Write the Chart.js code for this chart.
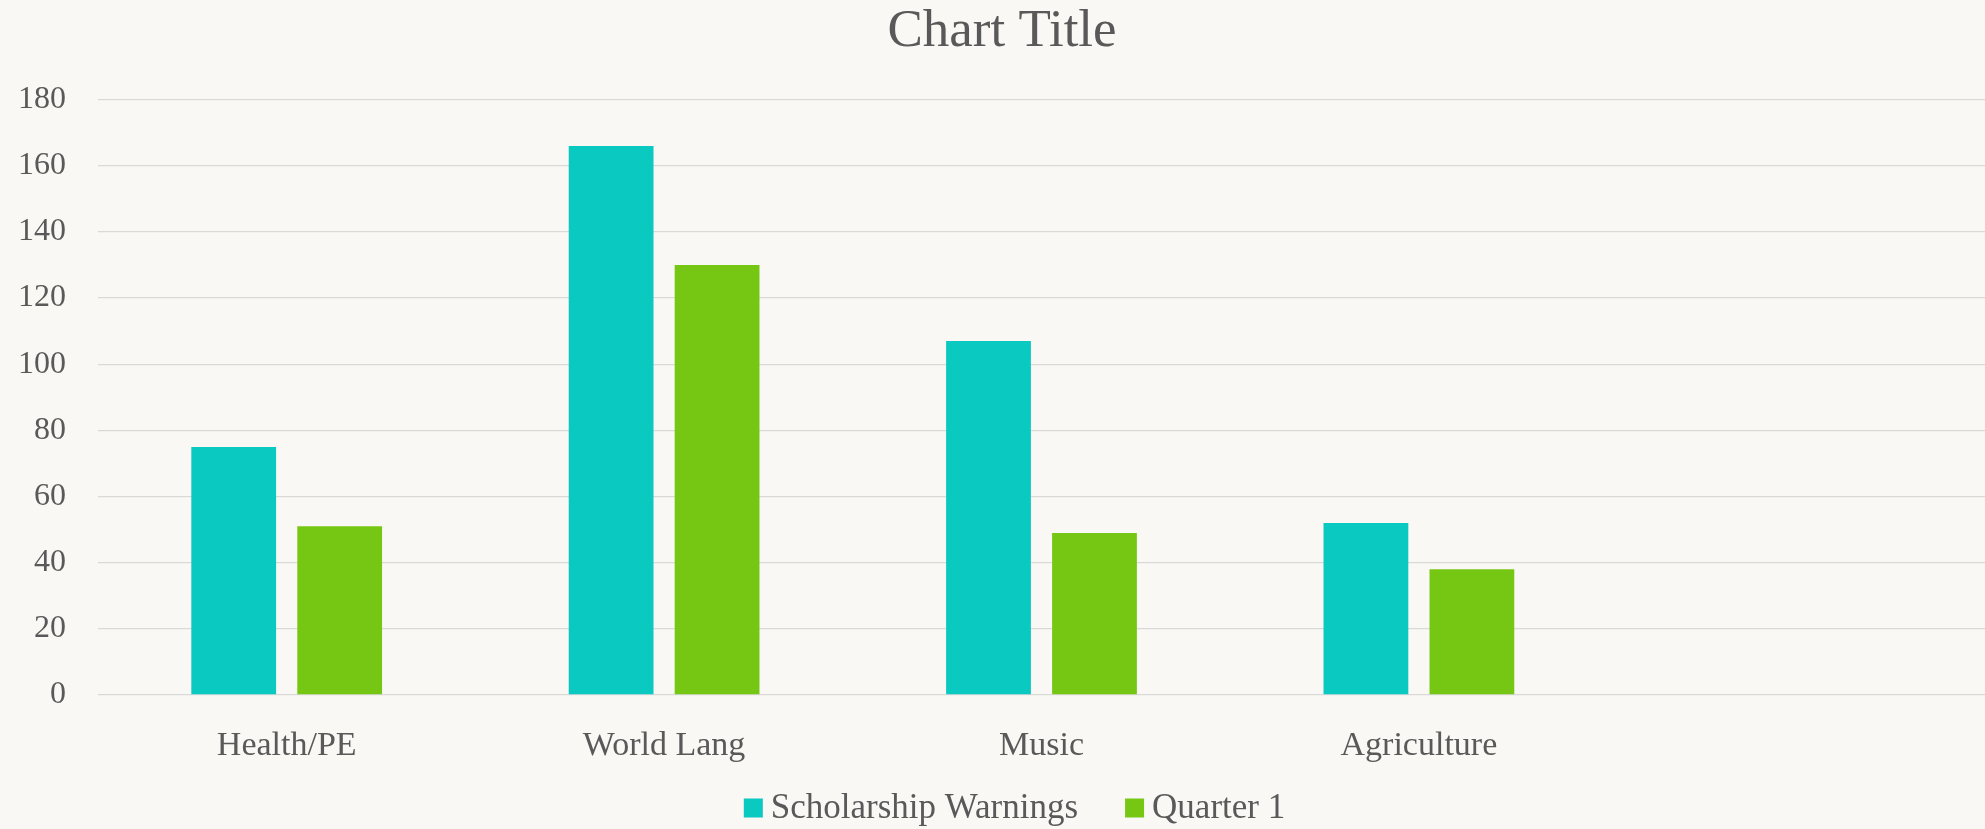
<!DOCTYPE html>
<html>
<head>
<meta charset="utf-8">
<script src="https://cdn.jsdelivr.net/npm/chart.js@4.4.0/dist/chart.umd.min.js"></script>
<style>
  html, body { margin: 0; padding: 0; background: #faf8f5; }
  #wrap { width: 1985px; height: 829px; }
</style>
</head>
<body>
<div id="wrap"><canvas id="chart"></canvas></div>
<script>
// Data
const categories = ['Health/PE', 'World Lang', 'Music', 'Agriculture', ''];
const scholarshipWarnings = [75, 166, 107, 52, null];
const quarter1 = [51, 130, 49, 38, null];
const yTicks = [0, 20, 40, 60, 80, 100, 120, 140, 160, 180];

let teal = '#09c9c0';
let green = '#76c714';
let textGrey = '#595959';
let gridGrey = '#d9d9d9';
const serif = '"Liberation Serif", "DejaVu Serif", serif';

// legend drawn under the axis, Excel style (small gap box->text, wide gap between items)
const bottomLegend = {
  id: 'bottomLegend',
  afterDraw(chart) {
    const ctx = chart.ctx;
    ctx.save();
    ctx.font = '35px ' + serif;
    ctx.textBaseline = 'middle';
    ctx.textAlign = 'left';
    const box = 19, gap = 8, spacing = 47;
    const items = chart.data.datasets.map(ds => ({
      text: ds.label,
      color: ds.backgroundColor,
      w: ctx.measureText(ds.label).width
    }));
    const total = items.reduce((s, it) => s + box + gap + it.w, 0) + spacing * (items.length - 1);
    let x = chart.width / 2 + 22 - total / 2;
    const y = chart.height - 21;
    items.forEach(it => {
      ctx.fillStyle = it.color;
      ctx.fillRect(x, y - box / 2, box, box);
      ctx.fillStyle = textGrey;
      ctx.fillText(it.text, x + box + gap, y + 1);
      x += box + gap + it.w + spacing;
    });
    ctx.restore();
  }
};

new Chart(document.getElementById('chart'), {
  type: 'bar',
  data: {
    labels: categories,
    datasets: [
      {
        label: 'Scholarship Warnings',
        data: scholarshipWarnings,
        backgroundColor: teal,
        borderWidth: 0,
        categoryPercentage: 0.5616,
        barPercentage: 0.80
      },
      {
        label: 'Quarter 1',
        data: quarter1,
        backgroundColor: green,
        borderWidth: 0,
        categoryPercentage: 0.5616,
        barPercentage: 0.80
      }
    ]
  },
  options: {
    responsive: true,
    maintainAspectRatio: false,
    animation: false,
    layout: {
      padding: { left: 19, right: 0, top: 0, bottom: 66 }
    },
    plugins: {
      legend: { display: false },
      tooltip: { enabled: false },
      title: {
        display: true,
        text: 'Chart Title',
        color: textGrey,
        font: { family: serif, size: 53, weight: 'normal' },
        padding: { top: 0, bottom: 36 }
      }
    },
    scales: {
      x: {
        grid: { display: false, drawTicks: false },
        border: { display: false },
        ticks: {
          color: textGrey,
          font: { family: serif, size: 34 },
          padding: 31,
          maxRotation: 0,
          autoSkip: false
        },
        afterFit: s => { s.height = 68; }
      },
      y: {
        min: 0,
        max: 180,
        afterBuildTicks: axis => { axis.ticks = yTicks.map(v => ({ value: v })); },
        grid: { color: gridGrey, lineWidth: 1.3, drawTicks: false },
        border: { display: false },
        ticks: {
          color: textGrey,
          font: { family: serif, size: 32 },
          padding: 32
        },
        afterFit: s => { s.width = 79; }
      }
    }
  },
  plugins: [bottomLegend]
});
</script>
</body>
</html>
